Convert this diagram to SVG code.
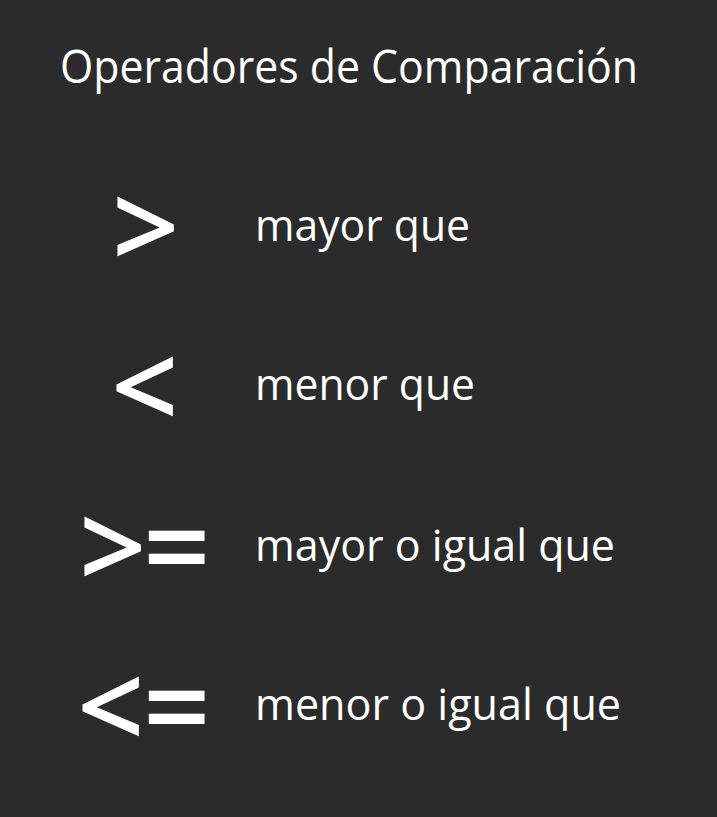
<svg xmlns="http://www.w3.org/2000/svg" width="717" height="817" viewBox="0 0 717 817">
<style>
.t{font-family:"Open Sans","Noto Sans",sans-serif;fill:#ffffff}
.title{font-size:45px}
.lbl{font-size:44px}
.sym{font-size:118px;font-weight:600}
</style>
<rect x="0" y="0" width="717" height="817" fill="#2b2b2b"/>
<g id="title"><text class="t title" x="60" y="83" textLength="578" lengthAdjust="spacingAndGlyphs">Operadores de Comparación</text></g>
<g id="row-gt">
<text class="t sym" x="112" y="269">&gt;</text>
<text class="t lbl" x="255" y="241" textLength="215" lengthAdjust="spacingAndGlyphs">mayor que</text>
</g>
<g id="row-lt">
<text class="t sym" x="111" y="429">&lt;</text>
<text class="t lbl" x="255" y="400" textLength="220" lengthAdjust="spacingAndGlyphs">menor que</text>
</g>
<g id="row-ge">
<text class="t sym" x="79" y="589">&gt;<tspan x="143">=</tspan></text>
<text class="t lbl" x="255" y="561" textLength="360" lengthAdjust="spacingAndGlyphs">mayor o igual que</text>
</g>
<g id="row-le">
<text class="t sym" x="77" y="749">&lt;<tspan x="143">=</tspan></text>
<text class="t lbl" x="255" y="720" textLength="366" lengthAdjust="spacingAndGlyphs">menor o igual que</text>
</g>
</svg>
